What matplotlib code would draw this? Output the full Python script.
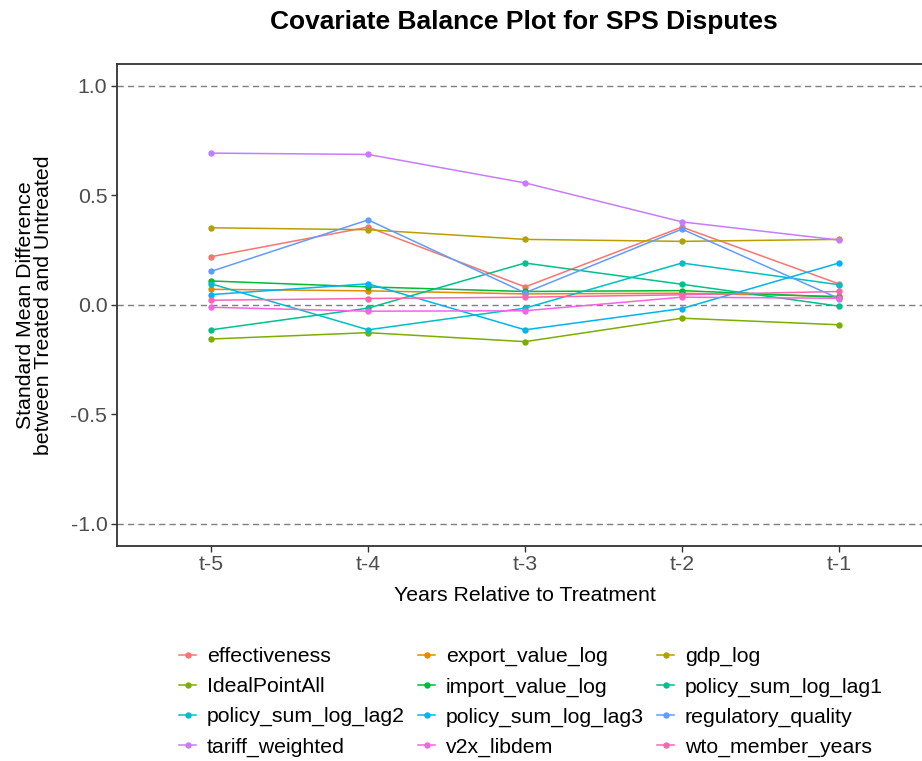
import matplotlib
matplotlib.use("Agg")
import matplotlib.pyplot as plt
from matplotlib.lines import Line2D

plt.rcParams['font.family'] = ['Liberation Sans', 'DejaVu Sans']

# Time points relative to treatment
periods = ["t-5", "t-4", "t-3", "t-2", "t-1"]

# Standardized mean differences by covariate
effectiveness = [0.220, 0.355, 0.082, 0.355, 0.096]
export_value_log = [0.071, 0.064, 0.050, 0.053, 0.039]
gdp_log = [0.352, 0.343, 0.299, 0.290, 0.299]
IdealPointAll = [-0.156, -0.127, -0.168, -0.061, -0.091]
import_value_log = [0.109, 0.082, 0.061, 0.065, 0.035]
policy_sum_log_lag1 = [-0.114, -0.015, 0.191, 0.094, -0.006]
policy_sum_log_lag2 = [0.096, -0.114, -0.015, 0.191, 0.092]
policy_sum_log_lag3 = [0.047, 0.096, -0.114, -0.017, 0.191]
regulatory_quality = [0.153, 0.388, 0.055, 0.346, 0.029]
tariff_weighted = [0.693, 0.687, 0.557, 0.379, 0.296]
v2x_libdem = [-0.011, -0.029, -0.027, 0.035, 0.030]
wto_member_years = [0.021, 0.029, 0.035, 0.046, 0.061]

covariates = [
    ("effectiveness", effectiveness),
    ("export_value_log", export_value_log),
    ("gdp_log", gdp_log),
    ("IdealPointAll", IdealPointAll),
    ("import_value_log", import_value_log),
    ("policy_sum_log_lag1", policy_sum_log_lag1),
    ("policy_sum_log_lag2", policy_sum_log_lag2),
    ("policy_sum_log_lag3", policy_sum_log_lag3),
    ("regulatory_quality", regulatory_quality),
    ("tariff_weighted", tariff_weighted),
    ("v2x_libdem", v2x_libdem),
    ("wto_member_years", wto_member_years),
]

# ggplot2 default hue palette for 12 groups
colors = ["#F8766D", "#DE8C00", "#B79F00", "#7CAE00", "#00BA38", "#00C08B",
          "#00BFC4", "#00B4F0", "#619CFF", "#C77CFF", "#F564E3", "#FF64B0"]

FS = 15.3

W, H = 922, 761
fig = plt.figure(figsize=(W / 100, H / 100), dpi=100)
left, right, top, bottom = 117, 933, 64, 545.7
ax = fig.add_axes([left / W, 1 - bottom / H, (right - left) / W, (bottom - top) / H])

x = list(range(1, len(periods) + 1))

for yref in (-1.0, 0.0, 1.0):
    ax.axhline(yref, color="#7F7F7F", lw=1.0, linestyle=(0, (4.5, 3)), zorder=1)

handles = []
for (name, vals), c in zip(covariates, colors):
    ax.plot(x, vals, color=c, lw=1.1, zorder=2)
    ax.plot(x, vals, "o", color=c, ms=4.6, mec="none", zorder=3)
    handles.append(Line2D([0], [0], color=c, lw=1.1, marker="o", ms=4.6, mec="none"))

ax.set_xlim(0.4, 5.6)
ax.set_ylim(-1.1, 1.1)
ax.set_xticks(x)
ax.set_xticklabels(periods)
ax.set_yticks([-1.0, -0.5, 0.0, 0.5, 1.0])
ax.set_yticklabels(["-1.0", "-0.5", "0.0", "0.5", "1.0"])

for side in ("left", "bottom", "top"):
    ax.spines[side].set_color("#333333")
    ax.spines[side].set_linewidth(1.3)
ax.spines["right"].set_visible(False)

ax.tick_params(axis="both", colors="#333333", length=4, width=1.0,
               labelsize=FS, labelcolor="#4D4D4D", pad=3)

ax.set_xlabel("Years Relative to Treatment", fontsize=FS)
ax.xaxis.set_label_coords(0.5, -0.083)
ax.set_ylabel("Standard Mean Difference\nbetween Treated and Untreated",
              fontsize=FS, linespacing=0.92)
ax.yaxis.set_label_coords(-0.079, 0.5)

fig.text(524 / W, 1 - 22 / H, "Covariate Balance Plot for SPS Disputes",
         ha="center", va="center", fontsize=19, fontweight="bold")

# Legend filled row by row across three columns
order = [0, 3, 6, 9, 1, 4, 7, 10, 2, 5, 8, 11]
leg = fig.legend([handles[i] for i in order], [covariates[i][0] for i in order],
                 ncol=3, loc="upper left", bbox_to_anchor=(179 / W, 1 - 647 / H),
                 frameon=False, fontsize=FS, handlelength=0.8, handletextpad=0.5,
                 columnspacing=0.63, labelspacing=0.52, borderaxespad=0, borderpad=0)

fig.savefig("out.png", dpi=100)
